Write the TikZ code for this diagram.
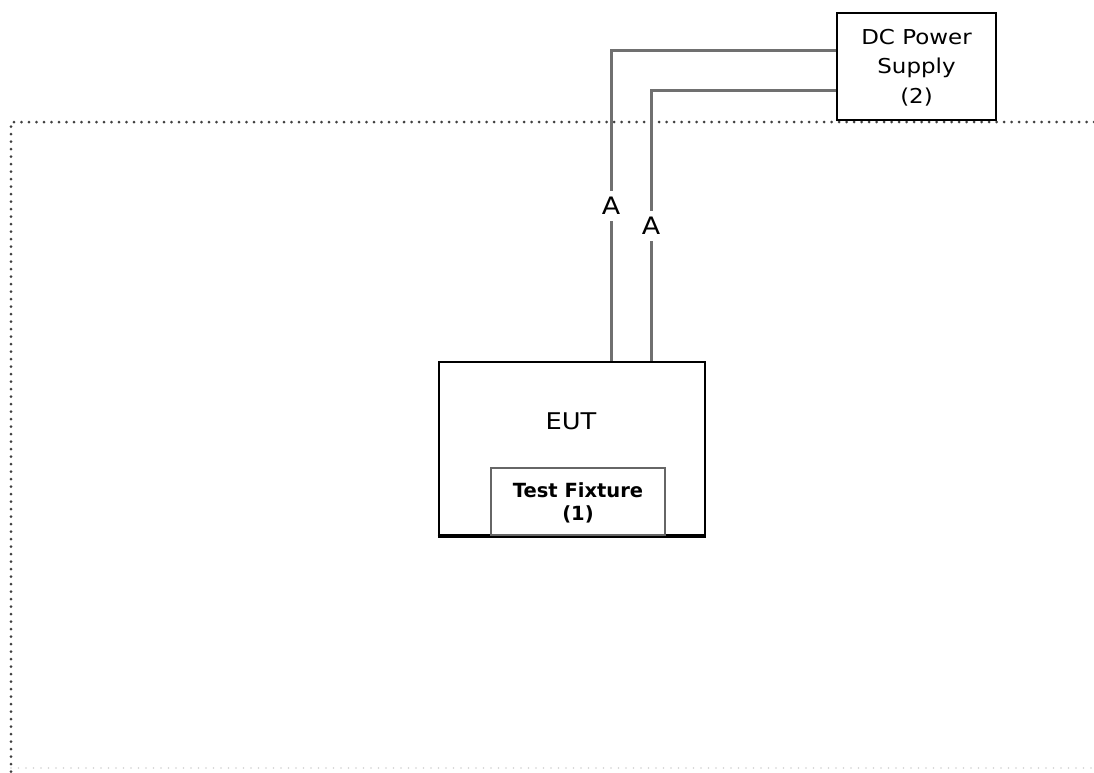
\documentclass[tikz,border=0pt]{standalone}
\usepackage{fontspec}
\usetikzlibrary{calc}
\newfontfamily\diafont[FakeStretch=1.12]{DejaVu Sans}
\newfontfamily\diafontb[FakeStretch=1.0]{DejaVu Sans Bold}
\definecolor{wiregray}{HTML}{707070}
\definecolor{dotgray}{HTML}{404040}
\begin{document}
\begin{tikzpicture}[x=1pt,y=-1pt,
  box/.style={draw=black,line width=2.6pt,fill=white,inner sep=0pt},
  wire/.style={draw=wiregray,line width=3pt},
  wlabel/.style={fill=white,inner xsep=2pt,inner ysep=6pt,font=\diafont\fontsize{24}{26}\selectfont},
  dotline/.style={draw=dotgray,line width=3pt,line cap=round,dash pattern=on 0pt off 7.5pt}]
\useasboundingbox (0,0) rectangle (1094,772);
% measurement area (dotted)
\coordinate (tl) at (11,122);
\coordinate (tr) at (1094,122);
\coordinate (bl) at (11,772);
\coordinate (br) at (1094,768);
\draw[dotline] (tr) -- (tl) -- (bl);
\draw[draw=black!18,line width=1.8pt,line cap=round,dash pattern=on 0pt off 7.5pt] (11,768) -- (br);
% DC power supply
\node[box,minimum width=159pt,minimum height=107pt] (dc) at (916.5,66.5) {};
\node[align=center,font=\diafont\fontsize{20.5}{29.5}\selectfont] (dctext) at (916.5,67.5) {DC Power\\Supply\\(2)};
% EUT
\node[box,minimum width=266pt,minimum height=173pt] (eut) at (572,448.5) {};
\draw[black,line width=3.5pt] (eut.south west) -- (eut.south east);
\node[font=\diafont\fontsize{23}{26}\selectfont] (euttext) at (571,421) {EUT};
\node[draw=black!60,line width=2.6pt,fill=white,minimum width=174pt,minimum height=67pt,inner sep=0pt] (fix) at (578,501.5) {};
\node[align=center,font=\diafontb\fontsize{19.5}{23}\selectfont] (fixtext) at (578,503) {Test Fixture\\(1)};
% cables
\coordinate (c1) at (611,50);
\coordinate (c2) at (651,90);
\draw[wire] (dc.west |- c1) -- (c1) -- (c1 |- eut.north);
\draw[wire] (dc.west |- c2) -- (c2) -- (c2 |- eut.north);
\node[wlabel] (a1) at (611,206) {A};
\node[wlabel] (a2) at (651,226) {A};
\end{tikzpicture}
\end{document}
